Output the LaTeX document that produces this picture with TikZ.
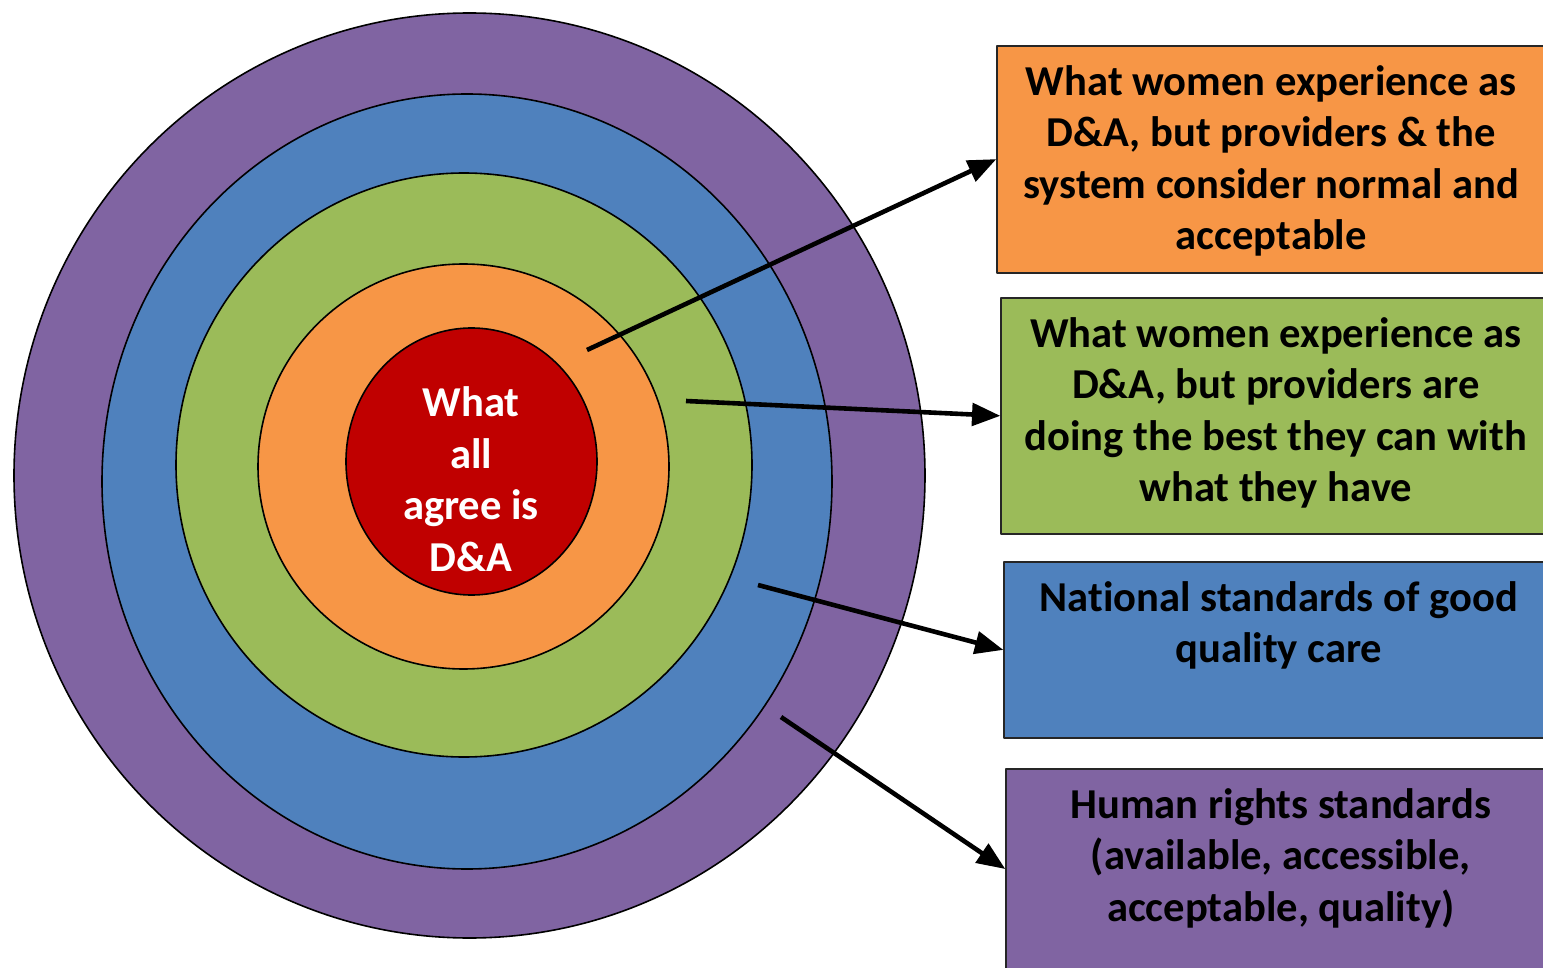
\documentclass[tikz,border=0pt]{standalone}
\usepackage{fontspec}
\setmainfont{Carlito}[Ligatures=NoCommon]
\usepackage{tikz}
\usetikzlibrary{arrows}
\definecolor{daRed}{HTML}{C00000}
\definecolor{daOrange}{HTML}{F79646}
\definecolor{daGreen}{HTML}{9BBB59}
\definecolor{daBlue}{HTML}{4F81BD}
\definecolor{daPurple}{HTML}{8064A2}
\tikzset{
  ring/.style={draw=black,line width=0.8pt},
  levelbox/.style={draw=black!85,line width=0.8pt,anchor=north west,inner sep=0pt},
  boxtext/.style={anchor=north,align=center,inner sep=0pt,font=\bfseries\fontsize{21.3}{25.75}\selectfont},
  pointer/.style={->,line width=2.3pt}
}
\begin{document}
\begin{tikzpicture}[line join=round,>=triangle 45,x=0.5pt,y=-0.5pt]
\useasboundingbox (0,0) rectangle (1543,968);
\clip (0,0) rectangle (1543,968);
\draw [ring,fill=daPurple] (469.5,475.5) ellipse [x radius=455.5,y radius=462.5];
\draw [ring,fill=daBlue] (467,481.5) ellipse [x radius=365,y radius=387.5];
\draw [ring,fill=daGreen] (464,465) ellipse [x radius=288,y radius=292];
\draw [ring,fill=daOrange] (463.5,466.5) ellipse [x radius=205.5,y radius=202.5];
\draw [ring,fill=daRed] (471.5,461.5) ellipse [x radius=125.5,y radius=133.5];
\node[boxtext,anchor=center,text=white] (core) at (471,479) {What\\all\\agree is\\D\&A};
\node[levelbox,fill=daOrange,minimum width=274.5pt,minimum height=113.5pt] (boxNorm) at (996,45) {};
\node[levelbox,fill=daGreen,minimum width=275pt,minimum height=118pt] (boxBest) at (1000,297) {};
\node[levelbox,fill=daBlue,minimum width=275pt,minimum height=88pt] (boxNational) at (1003,561) {};
\node[levelbox,fill=daPurple,minimum width=275pt,minimum height=100pt] (boxRights) at (1005,768) {};
\node[boxtext,yshift=-10pt] (txtNorm) at (boxNorm.north) {What women experience as\\D\&A, but providers \& the\\system consider normal and\\acceptable};
\node[boxtext,yshift=-10pt] (txtBest) at (boxBest.north) {What women experience as\\D\&A, but providers are\\doing the best they can with\\what they have};
\node[boxtext,yshift=-10pt] (txtNational) at (boxNational.north) {National standards of good\\quality care};
\node[boxtext,yshift=-10pt] (txtRights) at (boxRights.north) {Human rights standards\\(available, accessible,\\acceptable, quality)};
\coordinate (fromOrange) at (587,350);
\coordinate (fromGreen) at (686,401);
\coordinate (fromBlue) at (758,585);
\coordinate (fromPurple) at (781,717);
\draw [pointer] (fromOrange) -- (boxNorm.west);
\draw [pointer] (fromGreen) -- (boxBest.west);
\draw [pointer] (fromBlue) -- (boxNational.west);
\draw [pointer] (fromPurple) -- (boxRights.west);
\end{tikzpicture}
\end{document}
